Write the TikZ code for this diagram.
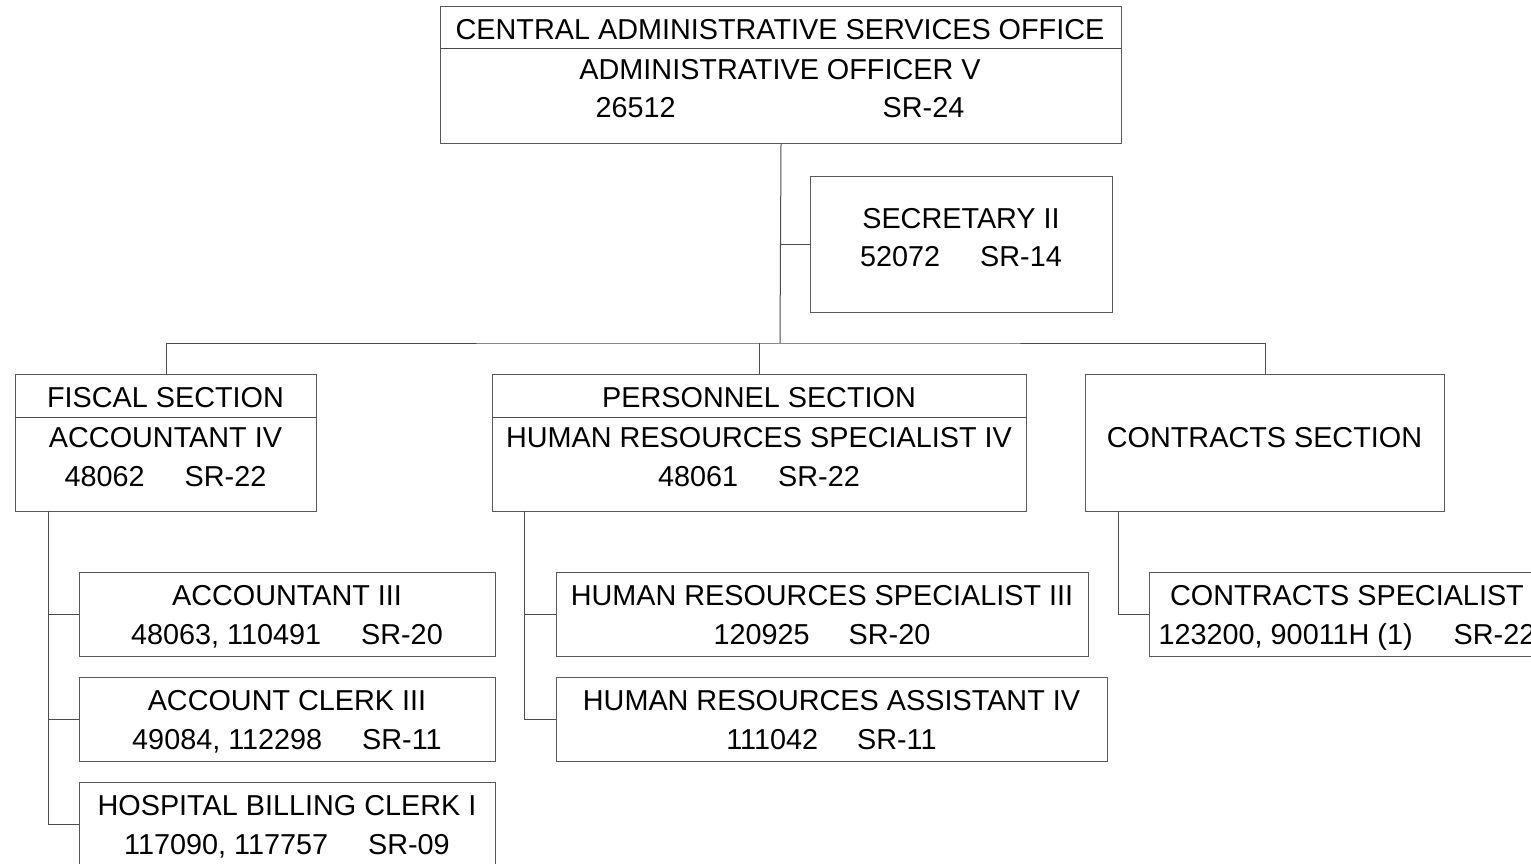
\documentclass[tikz,border=0pt]{standalone}
\usepackage{fontspec}
\setmainfont{Liberation Sans}
\begin{document}
\begin{tikzpicture}[x=1pt,y=-1pt,
  box/.style={draw=black!65, line width=1pt, rectangle, inner sep=0pt, anchor=north west},
  conn/.style={draw=black!70, line width=1pt},
  txt/.style={anchor=base, inner sep=0pt, font=\fontsize{28.8}{34}\selectfont}]
\path[use as bounding box] (0,0) rectangle (1531,864);
\clip (0,0) rectangle (1531,864);
% boxes
\node[box, minimum width=681, minimum height=137] (top) at (440,6) {};
\node[box, minimum width=302, minimum height=136] (sec) at (810,176) {};
\node[box, minimum width=301, minimum height=137] (fiscal) at (15,374) {};
\node[box, minimum width=534, minimum height=137] (pers) at (492,374) {};
\node[box, minimum width=359, minimum height=137] (contr) at (1085,374) {};
\node[box, minimum width=416, minimum height=84] (acc3) at (79,572) {};
\node[box, minimum width=416, minimum height=84] (clerk) at (79,677) {};
\node[box, minimum width=416, minimum height=84] (hosp) at (79,782) {};
\node[box, minimum width=532, minimum height=84] (hrs3) at (556,572) {};
\node[box, minimum width=551, minimum height=84] (hra4) at (556,677) {};
\node[box, minimum width=396, minimum height=84] (cspec) at (1149,572) {};
% dividers
\draw[conn] (top.west |- 0,49) -- (top.east |- 0,49);
\draw[conn] (fiscal.west |- 0,417) -- (fiscal.east |- 0,417);
\draw[conn] (pers.west |- 0,417) -- (pers.east |- 0,417);
% texts
\node[txt] (t1) at (780,40) {CENTRAL ADMINISTRATIVE SERVICES OFFICE};
\node[txt] (t2) at (780,80) {ADMINISTRATIVE OFFICER V};
\node[txt] (t3) at (780,118) {26512\hspace{207pt}SR-24};
\node[txt] (s1) at (961,228) {SECRETARY II};
\node[txt] (s2) at (961,266) {52072\hspace{40pt}SR-14};
\node[txt] (f1) at (165.5,407) {FISCAL SECTION};
\node[txt] (f2) at (165.5,447) {ACCOUNTANT IV};
\node[txt] (f3) at (165.5,486) {48062\hspace{40pt}SR-22};
\node[txt] (p1) at (759,407) {PERSONNEL SECTION};
\node[txt] (p2) at (759,447) {HUMAN RESOURCES SPECIALIST IV};
\node[txt] (p3) at (759,486) {48061\hspace{40pt}SR-22};
\node[txt] (c1) at (1264.5,447) {CONTRACTS SECTION};
\node[txt] (a1) at (287,605) {ACCOUNTANT III};
\node[txt] (a2) at (287,644) {48063, 110491\hspace{40pt}SR-20};
\node[txt] (k1) at (287,710) {ACCOUNT CLERK III};
\node[txt] (k2) at (287,749) {49084, 112298\hspace{40pt}SR-11};
\node[txt] (h1) at (287,815) {HOSPITAL BILLING CLERK I};
\node[txt] (h2) at (287,854) {117090, 117757\hspace{40pt}SR-09};
\node[txt] (r1) at (822,605) {HUMAN RESOURCES SPECIALIST III};
\node[txt] (r2) at (822,644) {120925\hspace{39pt}SR-20};
\node[txt] (q1) at (831.5,710) {HUMAN RESOURCES ASSISTANT IV};
\node[txt] (q2) at (831.5,749) {111042\hspace{39pt}SR-11};
\node[txt] (x1) at (1347,605) {CONTRACTS SPECIALIST};
\node[txt] (x2) at (1347,644) {123200, 90011H (1)\hspace{41pt}SR-22};
% connectors
\coordinate (bus) at (780,343);
\draw[conn] (top.south) -- (bus);
\draw[conn] (sec.west) -- (sec.west -| bus);
\draw[conn] (fiscal.north) |- (bus) -| (contr.north);
\draw[conn] (pers.north) -- (pers.north |- bus);
\coordinate (ftop) at (48,511);
\draw[conn] (ftop) |- (hosp.west);
\draw[conn] (ftop |- acc3.west) -- (acc3.west);
\draw[conn] (ftop |- clerk.west) -- (clerk.west);
\coordinate (ptop) at (524,511);
\draw[conn] (ptop) |- (hra4.west);
\draw[conn] (ptop |- hrs3.west) -- (hrs3.west);
\coordinate (ctop) at (1118,511);
\draw[conn] (ctop) |- (cspec.west);
\end{tikzpicture}
\end{document}
